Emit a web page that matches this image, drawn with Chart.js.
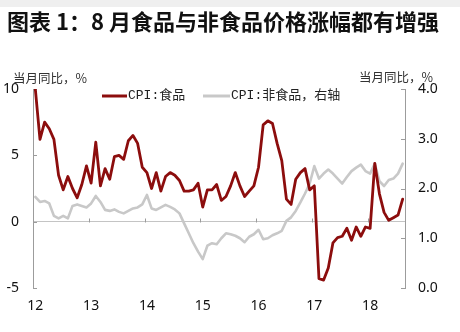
<!DOCTYPE html>
<html>
<head>
<meta charset="utf-8">
<script src="https://cdn.jsdelivr.net/npm/chart.js@4/dist/chart.umd.min.js"></script>
<style>
  html, body { margin: 0; padding: 0; background: #fff; }
  #wrap { position: relative; width: 460px; height: 332px; overflow: hidden; background: #fff; }
  #topband { position: absolute; left: 0; top: 0; width: 460px; height: 7px; background: #efefef; }
  #title { position: absolute; left: 7px; top: 5px; font: 700 22px "Noto Sans CJK SC", sans-serif;
           color: #111; white-space: pre; line-height: 30px; }
  canvas { position: absolute; left: 0; top: 0; }
</style>
</head>
<body>
<div id="wrap">
  <div id="topband"></div>
  <canvas id="c" width="460" height="332"></canvas>
  <div id="title">图表 1：8 月食品与非食品价格涨幅都有增强</div>
</div>
<script>
// Year tick labels shown under each January
const yearLabels = ['12', '13', '14', '15', '16', '17', '18'];

// Monthly categories, Jan 2012 – Aug 2018
const months = [];
for (let yr = 2012; yr <= 2018; yr++) {
  for (let m = 1; m <= 12; m++) {
    if (yr === 2018 && m > 8) break;
    months.push(yr + '-' + String(m).padStart(2, '0'));
  }
}

// CPI: food, year-on-year % (left axis)
const foodCPI = [
  10.0, 6.2, 7.5, 7.0, 6.2, 3.5, 2.4, 3.4, 2.5, 1.8, 2.8, 4.2,   // 2012
  2.9, 6.0, 2.7, 4.0, 3.2, 4.9, 5.0, 4.7, 6.1, 6.5, 5.9, 4.1,    // 2013
  3.7, 2.5, 3.7, 2.3, 3.4, 3.7, 3.5, 3.1, 2.3, 2.3, 2.4, 2.9,    // 2014
  1.1, 2.4, 2.4, 2.8, 1.6, 1.9, 2.7, 3.7, 2.7, 1.9, 2.3, 2.7,    // 2015
  4.1, 7.3, 7.6, 7.4, 5.9, 4.6, 1.7, 1.3, 3.2, 3.7, 4.0, 2.4,    // 2016
  2.7, -4.3, -4.4, -3.5, -1.6, -1.2, -1.1, -0.5, -1.4, -0.4, -1.1, -0.4, // 2017
  -0.5, 4.4, 2.1, 0.7, 0.1, 0.3, 0.5, 1.7                        // 2018
];

// CPI: non-food, year-on-year % (right axis)
const nonFoodCPI = [
  1.83, 1.73, 1.75, 1.70, 1.45, 1.40, 1.45, 1.40, 1.65, 1.68, 1.65, 1.62, // 2012
  1.70, 1.85, 1.73, 1.57, 1.55, 1.58, 1.53, 1.50, 1.55, 1.60, 1.62, 1.68, // 2013
  1.87, 1.60, 1.57, 1.62, 1.67, 1.63, 1.58, 1.50, 1.30, 1.10, 0.90, 0.73, // 2014
  0.58, 0.85, 0.90, 0.88, 1.00, 1.10, 1.08, 1.05, 1.00, 0.92, 1.03, 1.08, // 2015
  1.17, 0.98, 1.00, 1.06, 1.10, 1.15, 1.35, 1.42, 1.55, 1.72, 1.90, 2.10, // 2016
  2.45, 2.20, 2.30, 2.38, 2.30, 2.20, 2.10, 2.23, 2.35, 2.42, 2.48, 2.35, // 2017
  2.30, 2.50, 2.15, 2.05, 2.17, 2.20, 2.30, 2.50                          // 2018
];

const leftTicks = [-5, 0, 5, 10];
const rightTicks = [0, 1, 2, 3, 4];

const RED = '#8c0d0d';
const GREY = '#c8c8c8';
const AXIS = '#9c9c9c';

// Axis tick marks, zero-line year marks, axis titles and legend
const decor = {
  id: 'decor',
  beforeDatasetsDraw(chart) {
    const { ctx, chartArea: a, scales: { x, y, y1 } } = chart;
    ctx.save();
    ctx.strokeStyle = AXIS;
    ctx.lineWidth = 1;
    ctx.beginPath();
    leftTicks.forEach(v => {
      const py = Math.round(y.getPixelForValue(v)) + 0.5;
      ctx.moveTo(a.left, py); ctx.lineTo(a.left + 4, py);
    });
    rightTicks.forEach(v => {
      const py = Math.round(y1.getPixelForValue(v)) + 0.5;
      ctx.moveTo(a.right, py); ctx.lineTo(a.right - 4, py);
    });
    const zy = Math.round(y.getPixelForValue(0)) + 0.5;
    for (let i = 12; i < months.length; i += 12) {
      const px = Math.round((x.getPixelForValue(i - 1) + x.getPixelForValue(i)) / 2) + 0.5;
      ctx.moveTo(px, zy); ctx.lineTo(px, zy - 4);
    }
    ctx.stroke();
    ctx.restore();
  },
  afterDraw(chart) {
    const { ctx } = chart;
    ctx.save();
    // axis titles
    ctx.fillStyle = '#333';
    ctx.font = '12.5px "Noto Sans CJK SC", sans-serif';
    ctx.textBaseline = 'middle';
    ctx.textAlign = 'left';
    ctx.fillText('当月同比，%', 13, 78);
    ctx.fillText('当月同比，%', 359, 77);
    // legend
    const ly = 96;
    ctx.lineWidth = 3;
    ctx.strokeStyle = RED;
    ctx.beginPath(); ctx.moveTo(102, ly); ctx.lineTo(127, ly); ctx.stroke();
    ctx.strokeStyle = GREY;
    ctx.beginPath(); ctx.moveTo(203, ly); ctx.lineTo(230, ly); ctx.stroke();
    ctx.fillStyle = '#222';
    ctx.font = '13px "Liberation Mono", "Noto Sans CJK SC", monospace';
    ctx.fillText('CPI:食品', 128, ly);
    ctx.fillText('CPI:非食品，右轴', 231, ly);
    ctx.restore();
  }
};

const tickFont = { family: '"Noto Sans", sans-serif', size: 14 };

new Chart(document.getElementById('c'), {
  type: 'line',
  data: {
    labels: months,
    datasets: [
      {
        label: 'CPI:食品',
        data: foodCPI,
        yAxisID: 'y',
        borderColor: RED,
        borderWidth: 2.8,
        pointRadius: 0,
        tension: 0,
        borderJoinStyle: 'round',
        borderCapStyle: 'round'
      },
      {
        label: 'CPI:非食品，右轴',
        data: nonFoodCPI,
        yAxisID: 'y1',
        borderColor: GREY,
        borderWidth: 2.6,
        pointRadius: 0,
        tension: 0,
        borderJoinStyle: 'round',
        borderCapStyle: 'round'
      }
    ]
  },
  options: {
    responsive: false,
    animation: false,
    events: [],
    layout: { padding: { top: 89, left: 0, right: 0, bottom: 0 } },
    plugins: { legend: { display: false }, tooltip: { enabled: false } },
    scales: {
      x: {
        type: 'category',
        offset: true,
        grid: { display: false, drawTicks: false },
        border: { display: false },
        ticks: {
          autoSkip: false,
          maxRotation: 0,
          padding: 10,
          color: '#111',
          font: tickFont,
          callback: (v, i) => (i % 12 === 0 ? yearLabels[i / 12] : '')
        },
        afterFit: s => { s.height = 44; }
      },
      y: {
        position: 'left',
        min: -5,
        max: 10,
        afterBuildTicks: s => { s.ticks = leftTicks.map(v => ({ value: v })); },
        grid: {
          drawTicks: false,
          color: c => (c.tick && c.tick.value === 0 ? '#c4c4c4' : 'rgba(0,0,0,0)'),
          lineWidth: 1
        },
        border: { display: true, color: AXIS, width: 1 },
        ticks: { padding: 14, color: '#111', font: tickFont },
        afterFit: s => { s.width = 33; }
      },
      y1: {
        position: 'right',
        min: 0,
        max: 4,
        afterBuildTicks: s => { s.ticks = rightTicks.map(v => ({ value: v })); },
        grid: { drawOnChartArea: false, drawTicks: false },
        border: { display: true, color: AXIS, width: 1 },
        ticks: { padding: 13, color: '#111', font: tickFont, callback: v => Number(v).toFixed(1) },
        afterFit: s => { s.width = 55; }
      }
    }
  },
  plugins: [decor]
});
</script>
</body>
</html>
